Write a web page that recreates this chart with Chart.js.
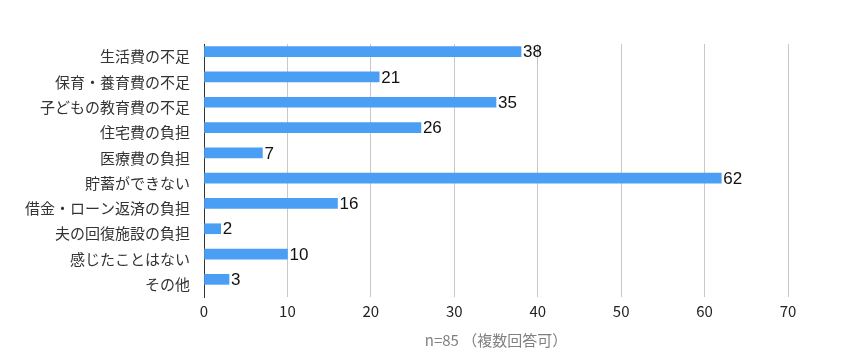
<!DOCTYPE html>
<html>
<head>
<meta charset="utf-8">
<script src="https://cdn.jsdelivr.net/npm/chart.js@4"></script>
<style>
  html, body { margin: 0; padding: 0; background: #fff; }
</style>
</head>
<body>
<canvas id="myChartBar" width="850" height="362"></canvas>
<script>
// 項目名
const labels = ['生活費の不足', '保育・養育費の不足', '子どもの教育費の不足', '住宅費の負担', '医療費の負担',
  '貯蓄ができない', '借金・ローン返済の負担', '夫の回復施設の負担', '感じたことはない', 'その他'];
// 回答数
const counts = [38, 21, 35, 26, 7, 62, 16, 2, 10, 3];
const axisTitle = 'n=85 （複数回答可）';

const jpFont = "'Noto Sans CJK JP', 'Noto Sans', sans-serif";

// バーの右端に数値を描く
const valueLabels = {
  id: 'valueLabels',
  afterDatasetsDraw(chart) {
    const ctx = chart.ctx;
    const meta = chart.getDatasetMeta(0);
    ctx.save();
    ctx.fillStyle = '#111';
    ctx.font = "17px 'Liberation Sans', Arial, sans-serif";
    ctx.textAlign = 'left';
    ctx.textBaseline = 'middle';
    meta.data.forEach((bar, i) => {
      ctx.fillText(counts[i], bar.x + 2, bar.y + 1);
    });
    ctx.restore();
  }
};

new Chart(document.getElementById('myChartBar'), {
  type: 'bar',
  data: {
    labels: labels,
    datasets: [{
      data: counts,
      backgroundColor: '#4a9ff5',
      borderWidth: 0,
      barThickness: 10
    }, {
      // 空の系列（元の図と同じくバーを帯の上寄せにするため）
      data: [],
      barThickness: 10
    }]
  },
  options: {
    indexAxis: 'y',
    responsive: false,
    animation: false,
    layout: { padding: { top: 44, right: 62, bottom: 13, left: 0 } },
    plugins: {
      legend: { display: false },
      tooltip: { enabled: false }
    },
    scales: {
      x: {
        min: 0,
        max: 70,
        ticks: { stepSize: 10, color: '#222', font: { size: 15, family: jpFont }, padding: 5 },
        grid: { color: '#c8c8c8', drawTicks: false },
        border: { display: false },
        title: { display: true, text: axisTitle, color: '#808080', font: { size: 15, family: jpFont }, padding: { top: 6, bottom: 0 } }
      },
      y: {
        ticks: { color: '#333', font: { size: 15, family: jpFont }, padding: 14 },
        grid: { display: false, drawTicks: false },
        border: { color: '#333', width: 1 },
        afterFit(axis) { axis.width = 204; }
      }
    }
  },
  plugins: [valueLabels]
});
</script>
</body>
</html>
